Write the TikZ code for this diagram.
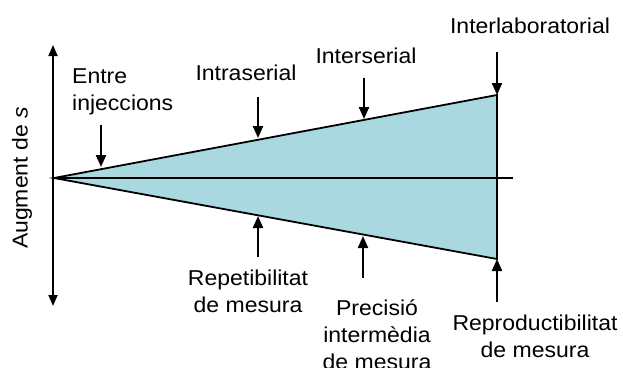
\documentclass[tikz,border=0pt]{standalone}
\usepackage{fontspec}
\setmainfont{Liberation Sans}[FakeStretch=1.07]
\usetikzlibrary{arrows.meta}
\definecolor{wedge}{RGB}{170,216,224}
\tikzset{
  lbl/.style={inner sep=0pt, align=center, font=\fontsize{21.5}{27}\selectfont},
  edge/.style={line width=1.8pt},
  pointer/.style={line width=2.2pt, -{Triangle[length=12pt,width=10pt]}},
  axis/.style={line width=1.8pt, {Triangle[length=11pt,width=9pt]}-{Triangle[length=11pt,width=9pt]}}
}
\begin{document}
\begin{tikzpicture}[x=1pt,y=-1pt]
\useasboundingbox (0,0) rectangle (623,367);
\clip (0,0) rectangle (623,367);
% key points
\coordinate (apex) at (54,178);
\coordinate (tr) at (497,95);
\coordinate (br) at (497,259);
\coordinate (hend) at (513,178);
\coordinate (atop) at (53,45);
\coordinate (abot) at (53,306);
% wedge
\fill[wedge] (apex) -- (tr) -- (br) -- cycle;
\draw[edge] (apex) -- (tr) -- (br) -- cycle;
\draw[edge] (apex) -- (hend);
\draw[axis] (atop) -- (abot);
% axis label
\node[lbl, rotate=90] (ylab) at (22,178) {Augment de \textit{s}};
% top labels (base = baseline of last line)
\node[lbl, align=left, anchor=base west] (entre) at (72,110) {Entre\\injeccions};
\node[lbl, anchor=base] (intra) at (246,80) {Intraserial};
\node[lbl, anchor=base] (inter) at (366,63) {Interserial};
\node[lbl, anchor=base] (interlab) at (530,33) {Interlaboratorial};
% bottom labels
\node[lbl, anchor=base] (repet) at (248,312) {Repetibilitat\\de mesura};
\node[lbl, anchor=base] (prec) at (377,369) {Precisió\\intermèdia\\de mesura};
\node[lbl, anchor=base] (repro) at (535,357) {Reproductibilitat\\de mesura};
% pointer coordinates
\coordinate (p1s) at (101,125); \coordinate (p1e) at (101,167);
\coordinate (p2s) at (258,97);  \coordinate (p2e) at (258,138);
\coordinate (p3s) at (364,78);  \coordinate (p3e) at (364,119);
\coordinate (p4s) at (497,52);  \coordinate (p4e) at (497,95);
\coordinate (q1s) at (258,257); \coordinate (q1e) at (258,216);
\coordinate (q2s) at (363,278); \coordinate (q2e) at (363,236);
\coordinate (q3s) at (497,302); \coordinate (q3e) at (497,259);
\foreach \a/\b in {p1s/p1e,p2s/p2e,p3s/p3e,p4s/p4e,q1s/q1e,q2s/q2e,q3s/q3e}
  \draw[pointer] (\a) -- (\b);
\end{tikzpicture}
\end{document}
